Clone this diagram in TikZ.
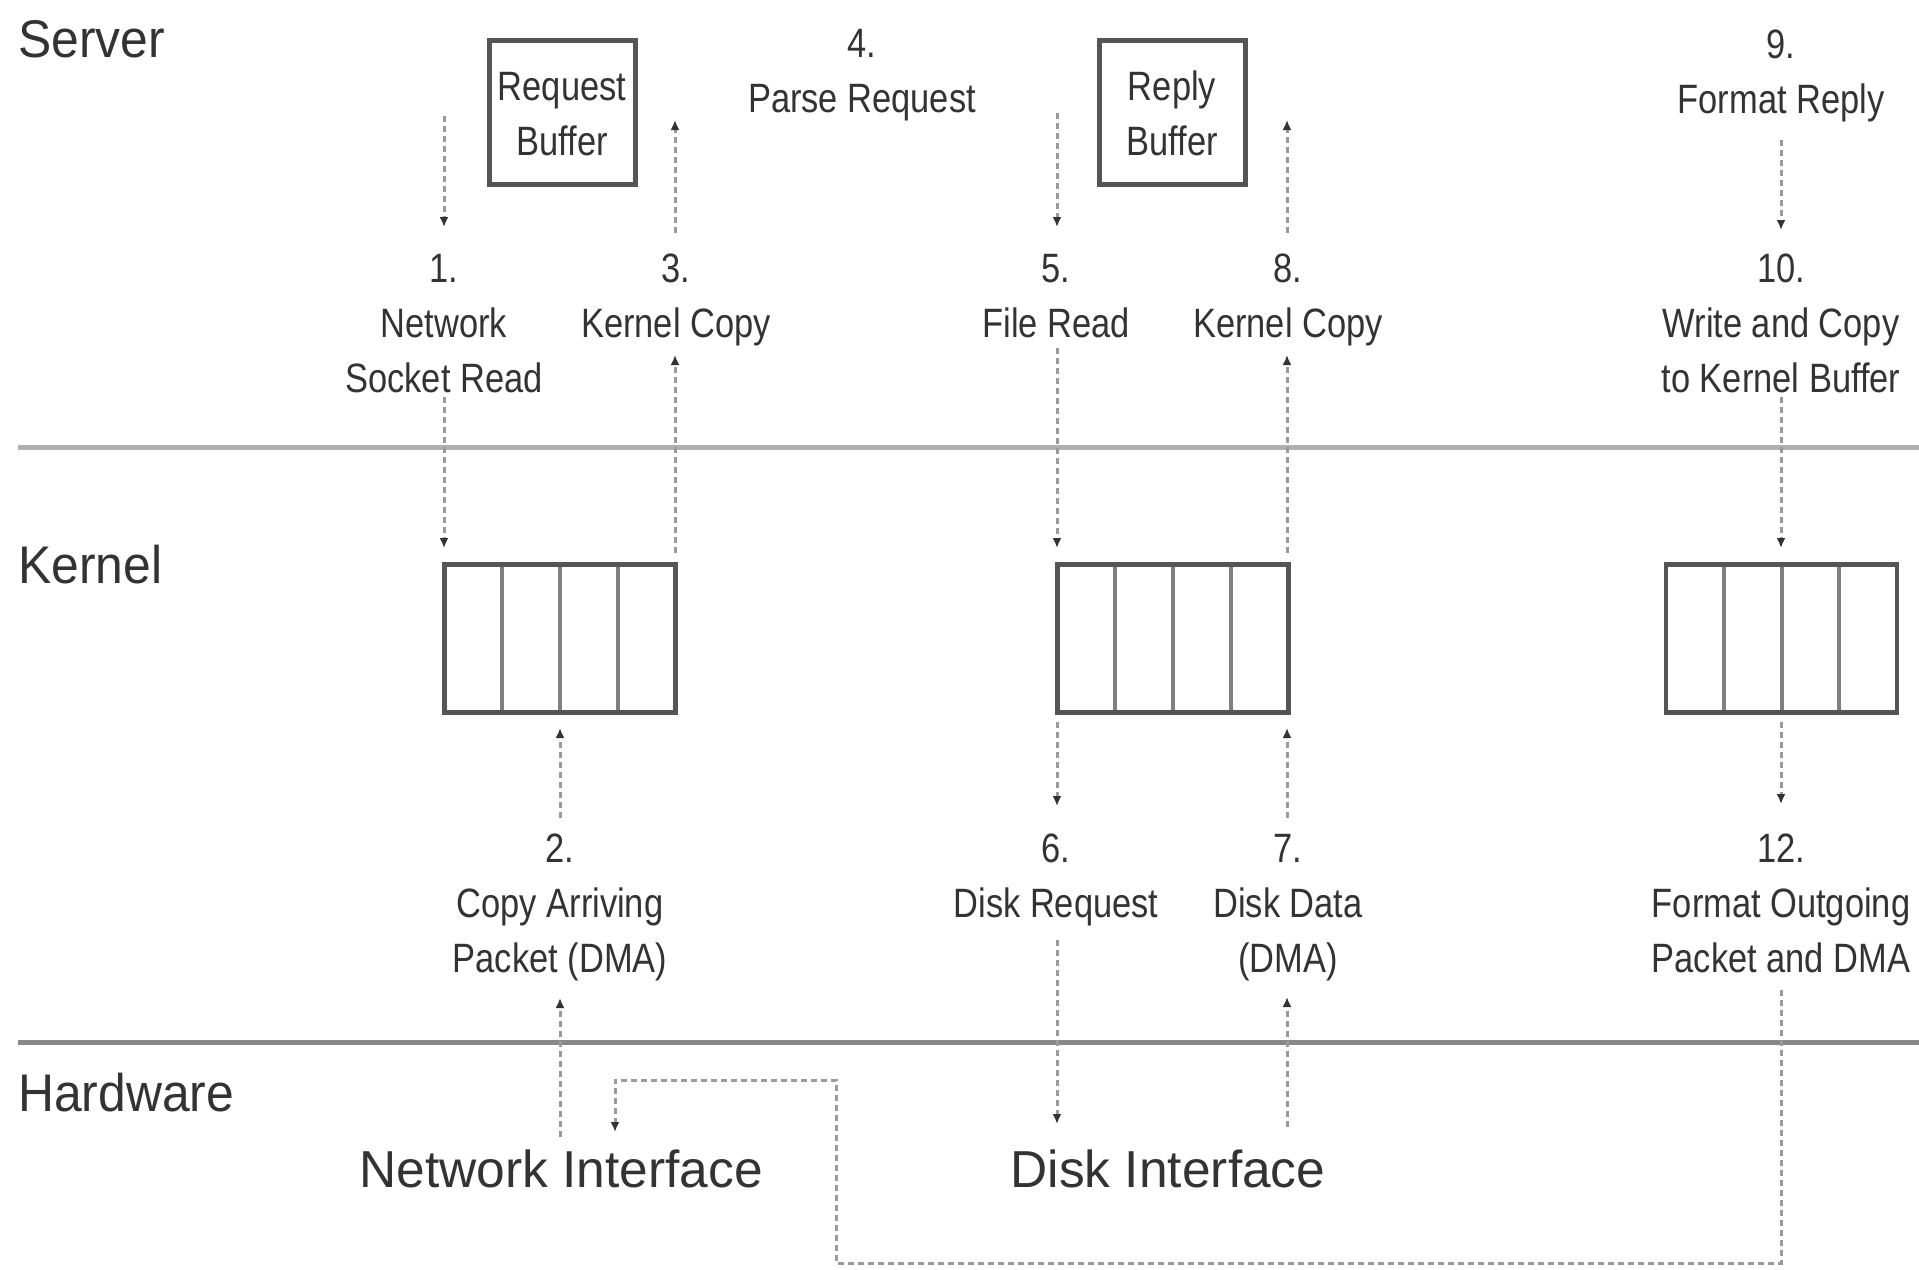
\documentclass[tikz,border=0pt]{standalone}
\usepackage{fontspec}
\setmainfont{Liberation Sans}
\newfontfamily\labfont[FakeStretch=0.84]{Liberation Sans}
\newfontfamily\headfont[FakeStretch=0.94]{Liberation Sans}
\newfontfamily\bigfont[FakeStretch=0.99]{Liberation Sans}
\usetikzlibrary{arrows.meta,calc}
\definecolor{txtcol}{HTML}{333333}
\definecolor{boxcol}{HTML}{555555}
\definecolor{cellcol}{HTML}{808080}
\definecolor{dashcol}{HTML}{9A9A9A}
\definecolor{tipcol}{HTML}{333333}
\definecolor{sepAcol}{HTML}{B0B0B0}
\definecolor{sepBcol}{HTML}{888888}
\tikzset{
  lab/.style={anchor=base, inner sep=0pt, text=txtcol, font=\labfont\fontsize{41}{50}\selectfont},
  head/.style={anchor=base west, inner sep=0pt, text=txtcol, font=\headfont\fontsize{53}{60}\selectfont},
  big/.style={anchor=base, inner sep=0pt, text=txtcol, font=\bigfont\fontsize{52}{60}\selectfont},
  membox/.style={draw=boxcol, line width=4.5pt, minimum width=146pt, minimum height=144pt, inner sep=0pt},
  bufbox/.style={minimum width=231pt, minimum height=148pt, inner sep=0pt},
  cellline/.style={draw=cellcol, line width=4pt},
  sepA/.style={draw=sepAcol, line width=5pt},
  sepB/.style={draw=sepBcol, line width=5pt},
  arr/.style={draw=dashcol, line width=3pt, dash pattern=on 6pt off 4pt,
    -{Latex[length=10pt,width=9pt,color=tipcol]}},
}
\begin{document}
\begin{tikzpicture}[x=1pt,y=-1pt]
\useasboundingbox (0,0) rectangle (1919,1269);
\fill[white] (0,0) rectangle (1919,1269);

% headings
\node[head] (hserver) at (18,57) {Server};
\node[head] (hkernel) at (18,583) {Kernel};
\node[head] (hhard) at (18,1111) {Hardware};

% separators
\coordinate (sa1) at (18,447); \coordinate (sa2) at (1919,447);
\coordinate (sb1) at (18,1042); \coordinate (sb2) at (1919,1042);
\draw[sepA] (sa1) -- (sa2);
\draw[sepB] (sb1) -- (sb2);

% server memory boxes
\node[membox] (reqbox) at (562.5,112.5) {};
\node[lab] (reqt1) at (562,100) {Request};
\node[lab] (reqt2) at (562,155) {Buffer};
\node[membox] (repbox) at (1172.5,112.5) {};
\node[lab] (rept1) at (1172,100) {Reply};
\node[lab] (rept2) at (1172,155) {Buffer};

% kernel buffers
\node[bufbox] (kb1) at (560,638.5) {};
\node[bufbox] (kb2) at (1173,638.5) {};
\node[bufbox] (kb3) at (1781.5,638.5) {};
\foreach \b in {kb1,kb2,kb3}{
  \foreach \f in {0.25,0.5,0.75}{
    \draw[cellline] ($(\b.north west)!\f!(\b.north east)$) -- ($(\b.south west)!\f!(\b.south east)$);
  }
  \draw[draw=boxcol, line width=4.5pt] (\b.north west) rectangle (\b.south east);
}

% top row labels
\node[lab] (l4a) at (862,57) {4.};
\node[lab] (l4b) at (862,112) {Parse Request};
\node[lab] (l9a) at (1781,58) {9.};
\node[lab] (l9b) at (1781,113) {Format Reply};

% middle row labels
\node[lab] (l1a) at (444,282) {1.};
\node[lab] (l1b) at (444,337) {Network};
\node[lab] (l1c) at (444,392) {Socket Read};
\node[lab] (l3a) at (676,282) {3.};
\node[lab] (l3b) at (676,337) {Kernel Copy};
\node[lab] (l5a) at (1056,282) {5.};
\node[lab] (l5b) at (1056,337) {File Read};
\node[lab] (l8a) at (1288,282) {8.};
\node[lab] (l8b) at (1288,337) {Kernel Copy};
\node[lab] (l10a) at (1781,282) {10.};
\node[lab] (l10b) at (1781,337) {Write and Copy};
\node[lab] (l10c) at (1781,392) {to Kernel Buffer};

% lower row labels
\node[lab] (l2a) at (560,862) {2.};
\node[lab] (l2b) at (560,917) {Copy Arriving};
\node[lab] (l2c) at (560,972) {Packet (DMA)};
\node[lab] (l6a) at (1056,862) {6.};
\node[lab] (l6b) at (1056,917) {Disk Request};
\node[lab] (l7a) at (1288,862) {7.};
\node[lab] (l7b) at (1288,917) {Disk Data};
\node[lab] (l7c) at (1288,972) {(DMA)};
\node[lab] (l12a) at (1781,862) {12.};
\node[lab] (l12b) at (1781,917) {Format Outgoing};
\node[lab] (l12c) at (1781,972) {Packet and DMA};

% hardware
\node[big] (netif) at (561,1187) {Network Interface};
\node[big] (diskif) at (1168,1187) {Disk Interface};

% arrow end points
\coordinate (a1s) at (444,116);  \coordinate (a1e) at (444,227);
\coordinate (a1t) at (444,397);  \coordinate (a1f) at (444,548);
\coordinate (a2s) at (560,1137); \coordinate (a2e) at (560,998);
\coordinate (a2t) at (560,818);  \coordinate (a2f) at (560,728);
\coordinate (a3s) at (675,553);  \coordinate (a3e) at (675,355);
\coordinate (a3t) at (675,233);  \coordinate (a3f) at (675,120);
\coordinate (a5s) at (1057,113); \coordinate (a5e) at (1057,227);
\coordinate (a5t) at (1057,348); \coordinate (a5f) at (1057,548);
\coordinate (a6s) at (1057,722); \coordinate (a6e) at (1057,806);
\coordinate (a6t) at (1057,940); \coordinate (a6f) at (1057,1124);
\coordinate (a7s) at (1287,1127);\coordinate (a7e) at (1287,997);
\coordinate (a7t) at (1287,818); \coordinate (a7f) at (1287,728);
\coordinate (a8s) at (1287,553); \coordinate (a8e) at (1287,355);
\coordinate (a8t) at (1287,233); \coordinate (a8f) at (1287,120);
\coordinate (a10s) at (1781,140);\coordinate (a10e) at (1781,230);
\coordinate (a10t) at (1781,397);\coordinate (a10f) at (1781,548);
\coordinate (a12s) at (1781,722);\coordinate (a12e) at (1781,804);
\coordinate (r0) at (1781,990);
\coordinate (r1) at (1781,1263);
\coordinate (r2) at (836,1263);
\coordinate (r3) at (836,1080);
\coordinate (r4) at (615,1080);
\coordinate (r5) at (615,1132);

% arrows
\draw[arr] (a1s) -- (a1e);
\draw[arr] (a1t) -- (a1f);
\draw[arr] (a2s) -- (a2e);
\draw[arr] (a2t) -- (a2f);
\draw[arr] (a3s) -- (a3e);
\draw[arr] (a3t) -- (a3f);
\draw[arr] (a5s) -- (a5e);
\draw[arr] (a5t) -- (a5f);
\draw[arr] (a6s) -- (a6e);
\draw[arr] (a6t) -- (a6f);
\draw[arr] (a7s) -- (a7e);
\draw[arr] (a7t) -- (a7f);
\draw[arr] (a8s) -- (a8e);
\draw[arr] (a8t) -- (a8f);
\draw[arr] (a10s) -- (a10e);
\draw[arr] (a10t) -- (a10f);
\draw[arr] (a12s) -- (a12e);
\draw[arr] (r0) -- (r1) -- (r2) -- (r3) -- (r4) -- (r5);
\end{tikzpicture}
\end{document}
